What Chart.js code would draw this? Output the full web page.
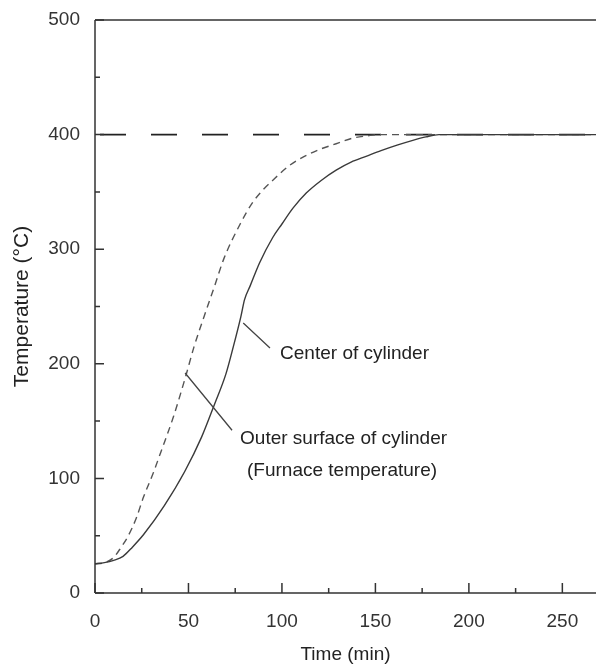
<!DOCTYPE html>
<html>
<head>
<meta charset="utf-8">
<script src="https://cdn.jsdelivr.net/npm/chart.js@4.4.1/dist/chart.umd.min.js"></script>
<style>
html,body{margin:0;padding:0;background:#fff;}
#wrap{width:596px;height:668px;}
</style>
</head>
<body>
<div id="wrap"><canvas id="c" width="596" height="668"></canvas></div>
<script>
// ---- data ----
const centerTime = [0, 5, 10, 15, 20, 26, 37, 48, 57, 64, 70, 74, 78, 80, 83, 88, 95, 100, 106, 113, 121, 129, 137, 145, 153, 162, 170, 177, 184, 268];
const centerTemp = [25.5, 26.5, 28.5, 32, 40, 51, 76, 106, 136, 165, 191, 215, 241, 256, 268, 288, 310, 322, 336, 349, 360, 369, 376, 381, 386, 391, 395, 398, 400, 400];

const furnaceTime = [0, 5, 10, 14, 17.5, 22, 26, 31, 35, 42, 48.5, 53, 58.5, 64, 69, 78, 84, 90, 95, 104, 112, 120, 129, 138, 146, 152, 268];
const furnaceTemp = [25.5, 26.5, 31, 40, 49, 65, 84, 104, 122, 154, 189, 215, 242, 268, 292, 323, 340, 352, 360, 373, 381, 387, 392, 397, 399, 400, 400];

const setpointTime = [0, 268];
const setpointTemp = [400, 400];

const xTickLabels = [0, 50, 100, 150, 200, 250];
const xMinorTicks = [25, 75, 125, 175, 225];
const yTickLabels = [0, 100, 200, 300, 400, 500];
const yMinorTicks = [50, 150, 250, 350, 450];

const labelCenter = "Center of cylinder";
const labelOuter1 = "Outer surface of cylinder";
const labelOuter2 = "(Furnace temperature)";
// annotation anchors in data units [time, temperature]
const centerLeader = [[79.3, 235.6], [93.6, 213.8]];
const centerText = [99, 208.5];
const outerLeader = [[48.2, 192], [73.3, 142]];
const outerText1 = [77.6, 135];
const outerText2 = [81.3, 107];

const toXY = (xs, ys) => xs.map((v, i) => ({x: v, y: ys[i]}));

const FONT = "'Liberation Sans', Arial, sans-serif";
const INK = '#333';

const decor = {
  id: 'decor',
  afterDatasetsDraw(chart) {
    const {ctx, chartArea: a, scales: {x, y}} = chart;
    ctx.save();
    ctx.strokeStyle = INK;
    ctx.lineWidth = 1.5;
    ctx.beginPath();
    ctx.moveTo(a.left, a.top); ctx.lineTo(a.right, a.top);
    ctx.moveTo(a.left, a.top); ctx.lineTo(a.left, a.bottom);
    ctx.moveTo(a.left, a.bottom); ctx.lineTo(a.right, a.bottom);
    ctx.stroke();
    ctx.beginPath();
    xTickLabels.forEach(v => { const p = x.getPixelForValue(v); ctx.moveTo(p, a.bottom); ctx.lineTo(p, a.bottom - 10); });
    xMinorTicks.forEach(v => { const p = x.getPixelForValue(v); ctx.moveTo(p, a.bottom); ctx.lineTo(p, a.bottom - 5); });
    yTickLabels.forEach(v => { const p = y.getPixelForValue(v); ctx.moveTo(a.left, p); ctx.lineTo(a.left + 9, p); });
    yMinorTicks.forEach(v => { const p = y.getPixelForValue(v); ctx.moveTo(a.left, p); ctx.lineTo(a.left + 5, p); });
    ctx.stroke();
    ctx.lineWidth = 1.3;
    ctx.strokeStyle = '#444';
    ctx.beginPath();
    [centerLeader, outerLeader].forEach(L => {
      ctx.moveTo(x.getPixelForValue(L[0][0]), y.getPixelForValue(L[0][1]));
      ctx.lineTo(x.getPixelForValue(L[1][0]), y.getPixelForValue(L[1][1]));
    });
    ctx.stroke();
    ctx.fillStyle = '#222';
    ctx.font = '19px ' + FONT;
    ctx.textBaseline = 'middle';
    ctx.textAlign = 'left';
    [[labelCenter, centerText], [labelOuter1, outerText1], [labelOuter2, outerText2]].forEach(([t, p]) => {
      ctx.fillText(t, x.getPixelForValue(p[0]), y.getPixelForValue(p[1]));
    });
    ctx.restore();
  }
};

new Chart(document.getElementById('c'), {
  type: 'scatter',
  data: {
    datasets: [
      {
        label: 'Center of cylinder',
        data: toXY(centerTime, centerTemp),
        showLine: true, borderColor: '#3a3a3a', borderWidth: 1.4,
        pointRadius: 0, cubicInterpolationMode: 'monotone', fill: false
      },
      {
        label: 'Outer surface of cylinder',
        data: toXY(furnaceTime, furnaceTemp),
        showLine: true, borderColor: '#555', borderWidth: 1.4, borderDash: [7, 5],
        pointRadius: 0, cubicInterpolationMode: 'monotone', fill: false
      },
      {
        label: 'Furnace setpoint',
        data: toXY(setpointTime, setpointTemp),
        showLine: true, borderColor: '#222', borderWidth: 1.6, borderDash: [26, 25], borderDashOffset: -5,
        pointRadius: 0, fill: false
      }
    ]
  },
  options: {
    responsive: false,
    animation: false,
    layout: {padding: {top: 20, right: 0, left: 0, bottom: 0}},
    plugins: {legend: {display: false}, tooltip: {enabled: false}},
    scales: {
      x: {
        type: 'linear', min: 0, max: 268,
        afterBuildTicks: s => { s.ticks = xTickLabels.map(v => ({value: v})); },
        afterFit: s => { s.height = 75; s.paddingLeft = 0; s.paddingRight = 0; },
        grid: {display: false, drawTicks: false},
        border: {display: false},
        ticks: {color: INK, font: {family: FONT, size: 19}, padding: 17, maxRotation: 0},
        title: {display: true, text: 'Time (min)', color: '#222', font: {family: FONT, size: 19}, padding: {top: 0, bottom: 2}}
      },
      y: {
        type: 'linear', min: 0, max: 500,
        afterBuildTicks: s => { s.ticks = yTickLabels.map(v => ({value: v})); },
        afterFit: s => { s.width = 95; s.paddingTop = 0; s.paddingBottom = 0; },
        grid: {display: false, drawTicks: false},
        border: {display: false},
        ticks: {color: INK, font: {family: FONT, size: 19}, padding: 15},
        title: {display: true, text: 'Temperature (°C)', color: '#222', font: {family: FONT, size: 21}, padding: {top: 10, bottom: 0}}
      }
    }
  },
  plugins: [decor]
});
</script>
</body>
</html>
